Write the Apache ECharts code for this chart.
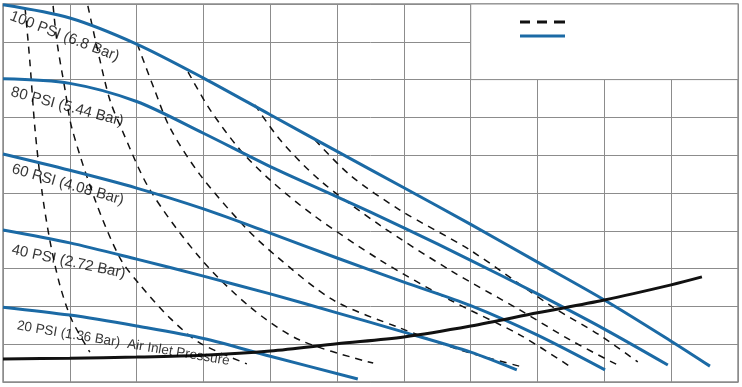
<!DOCTYPE html>
<html><head><meta charset="utf-8">
<script src="https://cdn.jsdelivr.net/npm/echarts@6/dist/echarts.min.js"></script>
<style>html,body{margin:0;padding:0;background:#fff}#c{width:742px;height:387px}</style>
</head><body><div id="c"></div>
<script>
// Performance curves (blue), x = flow units, y = head units
const psi100 = [[0,9.98],[1,9.63],[2,8.94],[3,8.04],[4,7.07],[5,6.10],[6,5.14],[7,4.17],[8,3.17],[9,2.17],[10,1.08],[10.58,0.42]];
const psi80  = [[0,8.02],[1,7.90],[2,7.42],[3,6.58],[4,5.70],[5,4.90],[6,4.08],[7,3.22],[8,2.33],[9,1.40],[9.95,0.45]];
const psi60  = [[0,6.03],[1,5.60],[2,5.13],[3,4.58],[4,3.94],[5,3.28],[6,2.64],[7,2.02],[8,1.24],[9.01,0.32]];
const psi40  = [[0,4.02],[1,3.68],[2,3.25],[3,2.80],[4,2.33],[5,1.83],[6,1.32],[7,0.79],[7.69,0.32]];
const psi20  = [[0,1.98],[1,1.77],[2,1.48],[3,1.15],[4,0.68],[5.31,0.08]];
// Air inlet pressure curve (black)
const airInlet = [[0,0.61],[1,0.63],[2,0.66],[3,0.71],[4,0.82],[5,1.01],[6,1.19],[7,1.48],[8,1.83],[9,2.17],[10,2.57],[10.46,2.78]];
// Air consumption curves (dashed)
const airA = [[0.33,9.9],[0.40,8.52],[0.48,6.67],[0.58,5.08],[0.70,3.76],[0.85,2.57],[1.03,1.64],[1.30,0.79]];
const airB = [[0.75,9.95],[0.81,8.97],[0.93,7.72],[1.03,6.72],[1.38,4.81],[1.75,3.28],[2.05,2.57],[2.50,1.69],[2.95,1.03],[3.65,0.48]];
const airC = [[1.27,9.95],[1.45,8.52],[1.60,7.46],[1.78,6.67],[2.20,5.08],[2.95,3.28],[3.70,1.98],[4.44,1.11],[5.54,0.50]];
const airD = [[2.01,8.94],[2.27,7.72],[2.50,6.72],[2.95,5.48],[3.62,4.10],[4.07,3.36],[4.94,2.17],[5.94,1.43],[6.84,0.85],[7.77,0.40]];
const airE = [[2.77,8.20],[3.10,7.20],[3.55,6.14],[4.00,5.34],[4.64,4.42],[5.64,3.23],[6.69,2.17],[7.74,1.24],[8.52,0.37]];
const airF = [[3.77,7.33],[4.15,6.40],[4.74,5.34],[5.64,4.15],[6.69,2.96],[7.74,1.90],[8.49,1.11],[9.20,0.45]];
const airG = [[4.67,6.40],[5.19,5.48],[5.94,4.55],[6.99,3.49],[8.23,1.98],[8.93,1.24],[9.50,0.53]];
// Curve labels
const labelTexts = ['100 PSI (6.8 Bar)','80 PSI (5.44 Bar)','60 PSI (4.08 Bar)','40 PSI (2.72 Bar)','20 PSI (1.36 Bar)  Air Inlet Pressure'];
const labelAnchors = [[0.92,9.14],[0.96,7.28],[0.97,5.22],[0.98,3.18],[1.80,1.02]];
const labelAngles = [-21,-15,-16,-12,-9.5];
const labelSizes = [15,15,15,15,13.5];

const BLUE = '#1b6aa5';
const blueSeries = [psi100, psi80, psi60, psi40, psi20].map((d,i) => ({
  name: 'Performance', type: 'line', data: d, showSymbol: false, symbol: 'none',
  smooth: 0.3, lineStyle: {color: BLUE, width: 3}, itemStyle: {color: BLUE}, z: 4, silent: true
}));
const dashSeries = [airA, airB, airC, airD, airE, airF, airG].map(d => ({
  name: 'Air Consumption', type: 'line', data: d, showSymbol: false, symbol: 'none',
  smooth: 0.3, lineStyle: {color: '#111', width: 1.5, type: [7,6]}, itemStyle: {color: '#111'}, z: 3, silent: true
}));
const blackSeries = {
  name: 'Air Inlet Pressure', type: 'line', data: airInlet, showSymbol: false, symbol: 'none',
  smooth: 0.3, lineStyle: {color: '#111', width: 3}, z: 5, silent: true,
  markArea: { silent: true, itemStyle: {color: '#fff', borderColor: '#8c8c8c', borderWidth: 1},
    data: [[{coord: [7, 8]}, {coord: [11, 10]}]] }
};
const labelSeries = {
  type: 'scatter', symbolSize: 1, itemStyle: {color: 'rgba(0,0,0,0)'}, z: 6, silent: true,
  data: labelAnchors.map((p,i) => ({value: p, name: labelTexts[i],
    label: {show: true, position: 'inside', formatter: labelTexts[i], rotate: labelAngles[i],
      color: '#000', fontSize: labelSizes[i], fontFamily: 'Liberation Sans, Arial, sans-serif'}}))
};

const chart = echarts.init(document.getElementById('c'), null, {renderer: 'canvas'});
chart.setOption({
  animation: false,
  backgroundColor: '#fff',
  grid: {left: 3, right: 4, top: 4, bottom: 5, show: true, borderColor: '#8c8c8c', borderWidth: 1.5},
  legend: {
    data: [
      {name: 'Air Consumption', icon: 'path://M0,0h10v3h-10z M17,0h10v3h-10z M34,0h11v3h-11z', itemStyle: {color: '#111'}},
      {name: 'Performance', icon: 'rect', itemStyle: {color: BLUE}}
    ],
    orient: 'vertical', left: 515, top: 15.5,
    itemWidth: 45, itemHeight: 3, itemGap: 11, formatter: () => '', selectedMode: false,
    textStyle: {fontSize: 1}
  },
  xAxis: {type: 'value', min: 0, max: 11, interval: 1, axisLabel: {show: false}, axisTick: {show: false},
    axisLine: {show: false}, splitLine: {show: true, lineStyle: {color: '#8c8c8c', width: 1}}},
  yAxis: {type: 'value', min: 0, max: 10, interval: 1, axisLabel: {show: false}, axisTick: {show: false},
    axisLine: {show: false}, splitLine: {show: true, lineStyle: {color: '#8c8c8c', width: 1}}},
  series: [...dashSeries, ...blueSeries, blackSeries, labelSeries]
});
</script></body></html>
